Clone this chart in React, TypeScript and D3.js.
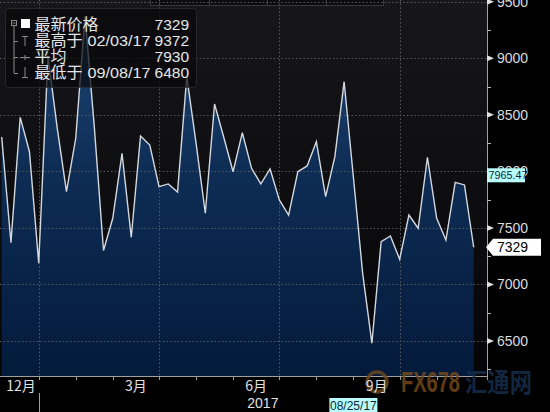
import React from 'react';
import * as d3 from 'd3';

const W = 550;
const H = 412;

// weekly (Friday) closes, starting 2016-12-02
const startDate = new Date(2016, 11, 2);
const prices = [
  8304, 7370, 8478, 8174, 7187, 9020, 8383, 7821, 8293, 9372,
  8400, 7300, 7585, 8160, 7417, 8313, 8233, 7865, 7889, 7818,
  8838, 8250, 7630, 8596, 8300, 7997, 8342, 8027, 7889, 8021,
  7747, 7614, 7997, 8048, 8263, 7776, 8130, 8793, 7950, 7100,
  6480, 7379, 7429, 7223, 7614, 7497, 8125, 7585, 7393, 7903,
  7880, 7329,
];
const dates = prices.map((_, i) => d3.timeDay.offset(startDate, 7 * i));

const yTicks = [6500, 7000, 7500, 8000, 8500, 9000, 9500];
const yMinorTicks = [6250, 6750, 7250, 7750, 8250, 8750, 9250];
const quarterMonths = ['2016-11', '2017-2', '2017-5', '2017-8'];
const monthLabels = [
  { key: '2016-11', label: '12月' },
  { key: '2017-2', label: '3月' },
  { key: '2017-5', label: '6月' },
  { key: '2017-8', label: '9月' },
];
const yearLabel = '2017';

const legendTitle = ['最新价格', '最高于', '平均', '最低于'];
const lastPrice = 7329;
const highPrice = 9372;
const highDate = '02/03/17';
const avgPrice = 7930;
const lowPrice = 6480;
const lowDate = '09/08/17';
const maValue = 7965.47;
const markerDate = new Date(2017, 7, 25);
const markerLabel = '08/25/17';

const PLOT_R = 487;
const PLOT_B = 376;

const x = d3.scaleTime().domain([dates[0], dates[dates.length - 1]]).range([1.7, 473.7]);
const y = d3.scaleLinear().domain([6500, 9000]).range([341.0, 58.3]);

const data = dates.map((d, i) => ({ date: d, v: prices[i] }));

const keyOf = (d: Date) => `${d.getFullYear()}-${d.getMonth()}`;
// last data date of each month -> month boundary ticks
const monthEnds: { key: string; date: Date }[] = [];
dates.forEach((d) => {
  const k = keyOf(d);
  const last = monthEnds[monthEnds.length - 1];
  if (last && last.key === k) last.date = d;
  else monthEnds.push({ key: k, date: d });
});
const prevMonthEnd = d3.timeDay.offset(startDate, -7);

const areaGen = d3
  .area<{ date: Date; v: number }>()
  .x((d) => x(d.date))
  .y0(PLOT_B)
  .y1((d) => y(d.v));
const lineGen = d3
  .line<{ date: Date; v: number }>()
  .x((d) => x(d.date))
  .y((d) => y(d.v));

const CJK = '"Noto Sans CJK SC", "Noto Sans", sans-serif';
const LAT = '"Liberation Sans", Arial, sans-serif';

export default function App() {
  const ticksBottom = monthEnds.filter((m) => m.key !== keyOf(dates[dates.length - 1]));
  const labelPos = monthLabels.map((ml) => {
    const idx = monthEnds.findIndex((m) => m.key === ml.key);
    const prev = idx > 0 ? monthEnds[idx - 1].date : prevMonthEnd;
    const cx = (x(prev) + x(monthEnds[idx].date)) / 2;
    return { label: ml.label, cx: Math.max(cx, 21) };
  });
  const yearStart = monthEnds.find((m) => m.key === '2016-11')!;
  const yearX = x(yearStart.date);
  const lastY = y(lastPrice);
  const maY = y(maValue);
  const mx = x(markerDate);

  return (
    <div style={{ position: 'fixed', left: 0, top: 0, width: W, height: H, background: '#000' }}>
      <svg width={W} height={H} style={{ display: 'block' }}>
        <defs>
          <linearGradient id="bg" x1="0" y1="0" x2="0" y2={PLOT_B} gradientUnits="userSpaceOnUse">
            <stop offset="0" stopColor="#17171b" />
            <stop offset="1" stopColor="#050507" />
          </linearGradient>
          <linearGradient id="fill" x1="0" y1="0" x2="0" y2={PLOT_B} gradientUnits="userSpaceOnUse">
            <stop offset="0" stopColor="#1f4a7a" />
            <stop offset="0.45" stopColor="#0e2d55" />
            <stop offset="1" stopColor="#041a3b" />
          </linearGradient>
        </defs>
        <rect x={0} y={0} width={W} height={H} fill="#000" />
        <rect x={0} y={0} width={PLOT_R} height={PLOT_B} fill="url(#bg)" />

        {/* top tabs */}
        <g stroke="#3a3a3e" fill="#0c0c0e">
          <rect x={150.5} y={-1} width={233} height={6.5} />
          {[209, 267, 326].map((v) => (
            <line key={v} x1={v + 0.5} x2={v + 0.5} y1={-1} y2={5.5} />
          ))}
        </g>

        {/* area + line */}
        <path d={areaGen(data) || ''} fill="url(#fill)" />

        {/* gridlines */}
        <g stroke="#5a5a5e" strokeWidth={1} strokeDasharray="1.5 2.2">
          {yTicks.map((t) => (
            <line key={t} x1={0} x2={PLOT_R} y1={Math.round(y(t)) + 0.5} y2={Math.round(y(t)) + 0.5} />
          ))}
          {ticksBottom
            .filter((m) => quarterMonths.includes(m.key))
            .map((m) => (
              <line key={m.key} x1={Math.round(x(m.date)) + 0.5} x2={Math.round(x(m.date)) + 0.5} y1={0} y2={PLOT_B} />
            ))}
        </g>

        <path d={lineGen(data) || ''} fill="none" stroke="#d4d8de" strokeWidth={1.4} strokeLinejoin="miter" />

        {/* frame */}
        <line x1={PLOT_R + 0.5} x2={PLOT_R + 0.5} y1={0} y2={PLOT_B + 4} stroke="#a0a0a0" />
        <line x1={0} x2={PLOT_R + 0.5} y1={PLOT_B + 0.5} y2={PLOT_B + 0.5} stroke="#a0a0a0" />

        {/* bottom ticks */}
        <g stroke="#a0a0a0">
          {ticksBottom.map((m) => (
            <line key={m.key} x1={Math.round(x(m.date)) + 0.5} x2={Math.round(x(m.date)) + 0.5} y1={PLOT_B} y2={PLOT_B + 4} />
          ))}
          <line x1={Math.round(yearX) + 0.5} x2={Math.round(yearX) + 0.5} y1={393} y2={H} />
        </g>

        {/* watermark */}
        <g opacity={0.8}>
          <circle cx={377} cy={382} r={10} fill="none" stroke="#6e4a1c" strokeWidth={3.5} />
          <text x={401} y={392} fontFamily={LAT} fontWeight="bold" fontSize={30} fill="#7a4c1a" textLength={59} lengthAdjust="spacingAndGlyphs">FX678</text>
          <text x={465} y={392} fontFamily={CJK} fontWeight="bold" fontSize={26} fill="#173050" textLength={67} lengthAdjust="spacingAndGlyphs">汇通网</text>
        </g>

        {/* month labels */}
        <g fontFamily={CJK} fontSize={14} fill="#e2e2e2" textAnchor="middle">
          {labelPos.map((l) => (
            <text key={l.label} x={l.cx} y={391}>{l.label}</text>
          ))}
        </g>
        <text x={(yearX + PLOT_R) / 2} y={408} fontFamily={LAT} fontSize={14} fill="#e2e2e2" textAnchor="middle">{yearLabel}</text>

        {/* marker date */}
        <rect x={mx - 24} y={398} width={48} height={14} fill="#b9ffff" />
        <text x={mx} y={409.5} fontFamily={LAT} fontSize={12} fill="#0b1f3a" textAnchor="middle">{markerLabel}</text>

        {/* right axis */}
        <g>
          {yMinorTicks.map((t) => (
            <line key={t} x1={PLOT_R} x2={PLOT_R + 4} y1={Math.round(y(t)) + 0.5} y2={Math.round(y(t)) + 0.5} stroke="#bbb" />
          ))}
          {yTicks.map((t) => (
            <g key={t}>
              <path d={`M${PLOT_R},${y(t) - 3} L${PLOT_R + 7},${y(t)} L${PLOT_R},${y(t) + 3} Z`} fill="#e0e0e0" />
              <text x={497} y={y(t) + 5} fontFamily={LAT} fontSize={14} fill="#dcdcdc">{t}</text>
            </g>
          ))}
        </g>

        {/* MA label */}
        <rect x={PLOT_R} y={maY - 7} width={38} height={14} fill="#b9ffff" />
        <text x={PLOT_R + 1.5} y={maY + 4} fontFamily={LAT} fontSize={10.8} fill="#0b1f3a">{maValue.toFixed(2)}</text>

        {/* last price label */}
        <path d={`M${PLOT_R - 1},${lastY} L${PLOT_R + 6},${lastY - 8.5} L541,${lastY - 8.5} L541,${lastY + 8.5} L${PLOT_R + 6},${lastY + 8.5} Z`} fill="#ffffff" />
        <text x={497} y={lastY + 5} fontFamily={LAT} fontSize={14} fill="#000">{lastPrice}</text>

        {/* legend */}
        <rect x={5.5} y={8.5} width={191} height={79} rx={3} fill="rgba(9,9,11,0.72)" stroke="rgba(45,45,50,0.8)" />
        <g stroke="#8a8a8a" fill="none" strokeWidth={1}>
          <rect x={11.5} y={20.5} width={5} height={5} />
          <line x1={12.5} x2={15.5} y1={23} y2={23} />
          <line x1={14} x2={14} y1={26} y2={73} />
          <line x1={14} x2={18} y1={41.5} y2={41.5} />
          <line x1={14} x2={18} y1={57.5} y2={57.5} />
          <line x1={14} x2={18} y1={73.5} y2={73.5} />
          <line x1={22} x2={28} y1={36.5} y2={36.5} />
          <line x1={25} x2={25} y1={36.5} y2={46} />
          <line x1={20} x2={30} y1={57.5} y2={57.5} />
          <line x1={25} x2={25} y1={55} y2={60} />
          <line x1={25} x2={25} y1={67} y2={77} />
          <line x1={22} x2={28} y1={77.5} y2={77.5} />
        </g>
        <rect x={21} y={19} width={9} height={9} fill="#ffffff" />
        <g fontFamily={CJK} fontSize={16} fill="#e6e6e6">
          <text x={34.5} y={29.5}>{legendTitle[0]}</text>
          <text x={34.5} y={46}>{legendTitle[1]}</text>
          <text x={34.5} y={62}>{legendTitle[2]}</text>
          <text x={34.5} y={78}>{legendTitle[3]}</text>
        </g>
        <g fontFamily={LAT} fontSize={15.5} fill="#e6e6e6">
          <text x={189} y={29.5} textAnchor="end">{lastPrice}</text>
          <text x={87.5} y={46} textLength={63} lengthAdjust="spacingAndGlyphs">{highDate}</text>
          <text x={189} y={46} textAnchor="end">{highPrice}</text>
          <text x={189} y={62} textAnchor="end">{avgPrice}</text>
          <text x={87.5} y={78} textLength={63} lengthAdjust="spacingAndGlyphs">{lowDate}</text>
          <text x={189} y={78} textAnchor="end">{lowPrice}</text>
        </g>
      </svg>
    </div>
  );
}
